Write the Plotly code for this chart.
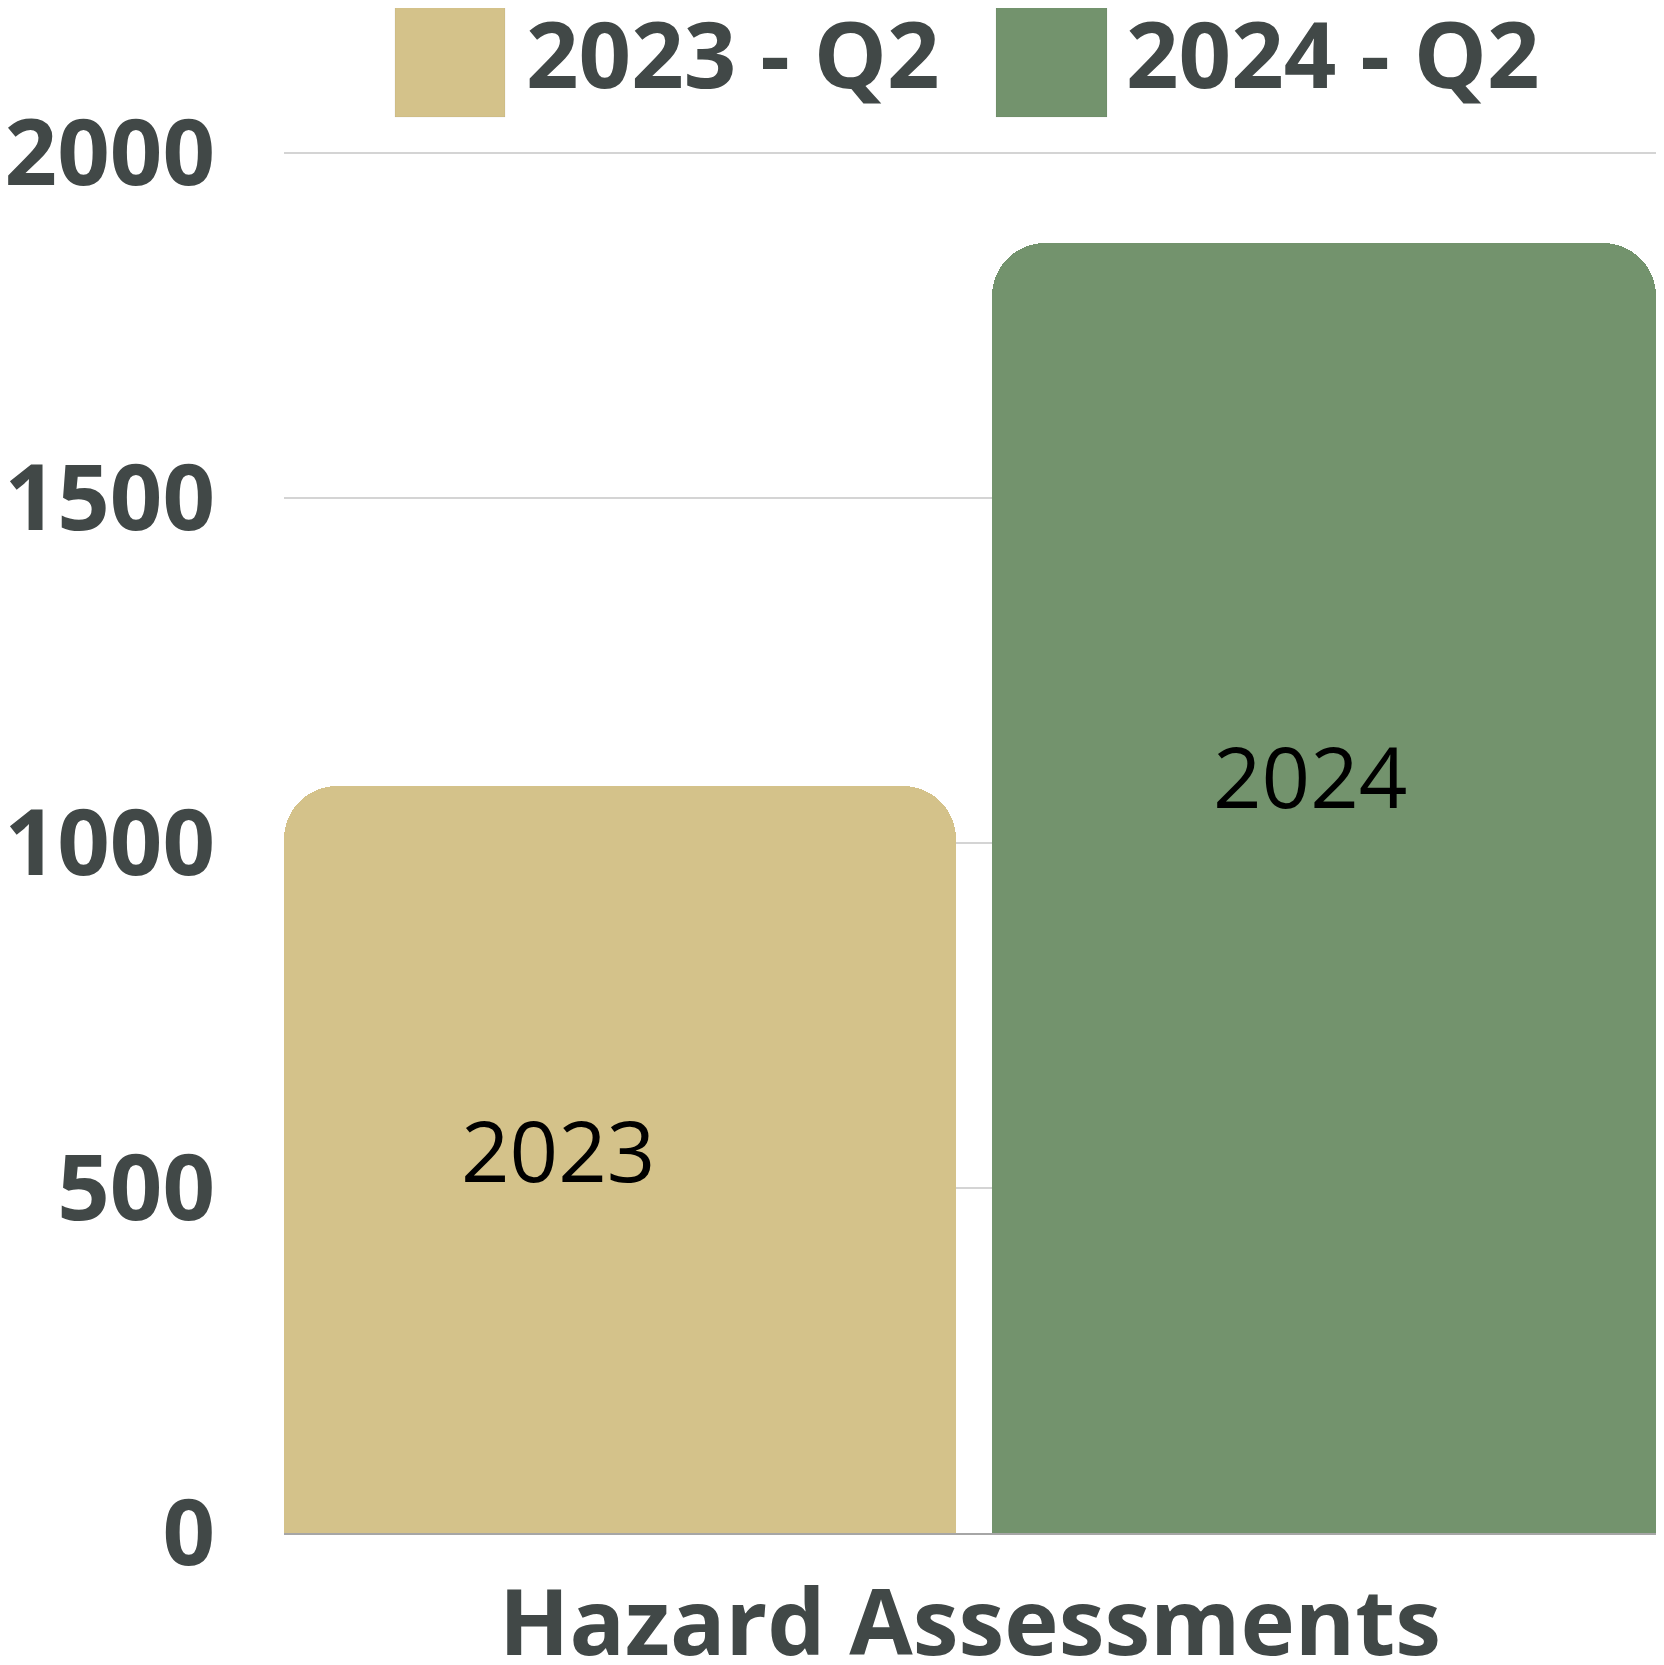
import plotly.graph_objects as go

# ---------- DATA ----------
category = ["Hazard Assessments"]
series_names = ["2023 - Q2", "2024 - Q2"]
series_values = [1083, 1870]
bar_labels = ["2023", "2024"]
bar_colors = ["#D4C28A", "#73936D"]
y_ticks = [0, 500, 1000, 1500, 2000]

# ---------- LAYOUT CONSTANTS ----------
# page body has an 8px margin; keep the figure small enough to avoid scrollbars
OFF = 8
W, H = 1664 - 2 * OFF, 1665 - 2 * OFF
L, R, T, B = 276, 0, 143, 124
TEXT = "#414847"
FONT = "Open Sans"
Y_MAX = 2003


def px_x(x):
    return (x - OFF - L) / (W - L - R)


def px_y(y):
    return (H - B - (y - OFF)) / (H - T - B)


fig = go.Figure()

widths = [0.4898, 0.484]
offsets = [-0.5, 0.016]
for name, val, col, w, off in zip(series_names, series_values, bar_colors, widths, offsets):
    fig.add_trace(go.Bar(
        x=category, y=[val], name=name,
        marker=dict(color=col, line=dict(width=0)),
        width=w, offset=off, showlegend=False, cliponaxis=False,
    ))

# bar value labels (placed inside the bars)
label_pos = [(-0.30, 557), (0.2475, 1099)]
for txt, (lx, ly) in zip(bar_labels, label_pos):
    fig.add_annotation(x=lx, y=ly, xref="x", yref="y", text=txt, showarrow=False,
                       font=dict(family=FONT, size=85, color="#000000"),
                       xanchor="center", yanchor="middle")

# custom legend with large swatches
legend_boxes = [(395, 505), (996, 1107)]
legend_text_x = [524, 1124]
for name, col, (x0, x1), tx in zip(series_names, bar_colors, legend_boxes, legend_text_x):
    fig.add_shape(type="rect", xref="paper", yref="paper",
                  x0=px_x(x0), x1=px_x(x1), y0=px_y(117), y1=px_y(7),
                  fillcolor=col, line=dict(color="rgba(0,0,0,0.05)", width=1))
    fig.add_annotation(x=px_x(tx), y=px_y(52), xref="paper", yref="paper",
                       text="<b>%s</b>" % name, showarrow=False,
                       font=dict(family=FONT, size=92, color=TEXT),
                       xanchor="left", yanchor="middle")

fig.update_layout(
    width=W, height=H,
    margin=dict(l=L, r=R, t=T, b=B, pad=0),
    paper_bgcolor="white", plot_bgcolor="white",
    barcornerradius=53,
    bargap=0, barmode="group",
    showlegend=False,
    font=dict(family=FONT, color=TEXT),
)
fig.update_xaxes(
    range=[-0.5, 0.5], showgrid=False, zeroline=False, automargin=False,
    showline=True, linecolor="#a6a6a6", linewidth=2,
    ticks="", tickfont=dict(family=FONT, size=92, color=TEXT, weight="bold"),
    ticklabelstandoff=10, fixedrange=True,
)
fig.update_yaxes(
    range=[0, Y_MAX], tickvals=y_ticks, automargin=False,
    showgrid=True, gridcolor="#d4d4d4", gridwidth=2,
    zeroline=False, showline=False, ticks="",
    tickfont=dict(family=FONT, size=92, color=TEXT, weight="bold"),
    ticklabelstandoff=68, fixedrange=True,
)

fig.write_html("out.html")
